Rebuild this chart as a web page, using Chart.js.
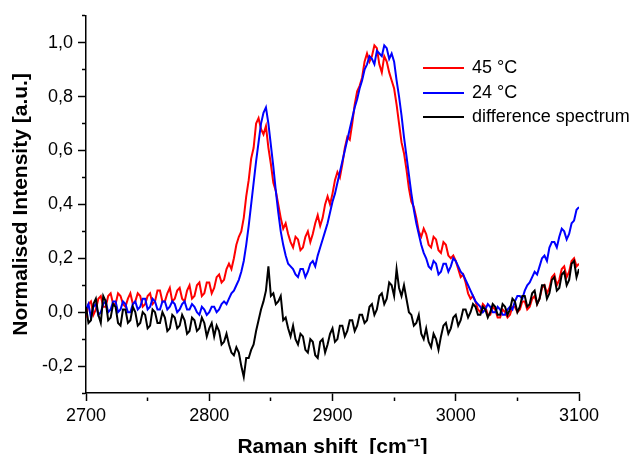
<!DOCTYPE html>
<html>
<head>
<meta charset="utf-8">
<script src="https://cdn.jsdelivr.net/npm/chart.js@4"></script>
<style>
  body { margin: 0; background: #fff; }
  #wrap { width: 638px; height: 454px; }
</style>
</head>
<body>
<div id="wrap"><canvas id="raman"></canvas></div>
<script>
// Raman shift grid (cm-1), one row = 20 cm-1
var shifts = [
  2700, 2702, 2704, 2706, 2708, 2710, 2712, 2714, 2716, 2718,
  2720, 2722, 2724, 2726, 2728, 2730, 2732, 2734, 2736, 2738,
  2740, 2742, 2744, 2746, 2748, 2750, 2752, 2754, 2756, 2758,
  2760, 2762, 2764, 2766, 2768, 2770, 2772, 2774, 2776, 2778,
  2780, 2782, 2784, 2786, 2788, 2790, 2792, 2794, 2796, 2798,
  2800, 2802, 2804, 2806, 2808, 2810, 2812, 2814, 2816, 2818,
  2820, 2822, 2824, 2826, 2828, 2830, 2832, 2834, 2836, 2838,
  2840, 2842, 2844, 2846, 2848, 2850, 2852, 2854, 2856, 2858,
  2860, 2862, 2864, 2866, 2868, 2870, 2872, 2874, 2876, 2878,
  2880, 2882, 2884, 2886, 2888, 2890, 2892, 2894, 2896, 2898,
  2900, 2902, 2904, 2906, 2908, 2910, 2912, 2914, 2916, 2918,
  2920, 2922, 2924, 2926, 2928, 2930, 2932, 2934, 2936, 2938,
  2940, 2942, 2944, 2946, 2948, 2950, 2952, 2954, 2956, 2958,
  2960, 2962, 2964, 2966, 2968, 2970, 2972, 2974, 2976, 2978,
  2980, 2982, 2984, 2986, 2988, 2990, 2992, 2994, 2996, 2998,
  3000, 3002, 3004, 3006, 3008, 3010, 3012, 3014, 3016, 3018,
  3020, 3022, 3024, 3026, 3028, 3030, 3032, 3034, 3036, 3038,
  3040, 3042, 3044, 3046, 3048, 3050, 3052, 3054, 3056, 3058,
  3060, 3062, 3064, 3066, 3068, 3070, 3072, 3074, 3076, 3078,
  3080, 3082, 3084, 3086, 3088, 3090, 3092, 3094, 3096, 3098,
  3100];

// 45 °C
var hot = [
  -0.02, 0.03, 0.04, -0.01, 0.01, 0.05, 0.06, 0.02, 0.02, 0.06,
  0.07, 0.03, 0.03, 0.07, 0.06, 0.03, 0.02, 0.05, 0.07, 0.03,
  0.04, 0.07, 0.06, 0.02, 0.03, 0.06, 0.07, 0.03, 0.04, 0.08,
  0.08, 0.04, 0.04, 0.07, 0.09, 0.04, 0.05, 0.08, 0.09, 0.05,
  0.04, 0.08, 0.10, 0.05, 0.06, 0.10, 0.11, 0.06, 0.07, 0.11,
  0.11, 0.07, 0.09, 0.13, 0.14, 0.11, 0.12, 0.16, 0.18, 0.16,
  0.20, 0.25, 0.28, 0.30, 0.35, 0.43, 0.49, 0.57, 0.61, 0.70,
  0.72, 0.68, 0.66, 0.69, 0.61, 0.55, 0.48, 0.45, 0.40, 0.35,
  0.31, 0.33, 0.29, 0.26, 0.24, 0.28, 0.27, 0.23, 0.24, 0.28,
  0.30, 0.26, 0.29, 0.33, 0.36, 0.32, 0.35, 0.40, 0.43, 0.40,
  0.44, 0.49, 0.52, 0.50, 0.55, 0.61, 0.65, 0.64, 0.70, 0.77,
  0.82, 0.84, 0.87, 0.93, 0.96, 0.93, 0.95, 0.99, 0.98, 0.92,
  0.89, 0.95, 0.93, 0.89, 0.86, 0.83, 0.77, 0.70, 0.63, 0.59,
  0.53, 0.46, 0.41, 0.39, 0.35, 0.30, 0.28, 0.31, 0.29, 0.25,
  0.24, 0.28, 0.27, 0.23, 0.22, 0.26, 0.25, 0.21, 0.20, 0.21,
  0.19, 0.16, 0.13, 0.14, 0.11, 0.07, 0.05, 0.06, 0.04, 0.01,
  0.00, 0.03, 0.02, -0.01, -0.01, 0.02, 0.01, -0.02, -0.02, 0.01,
  0.00, -0.02, -0.01, 0.02, 0.02, 0.00, 0.01, 0.04, 0.04, 0.01,
  0.02, 0.05, 0.06, 0.03, 0.05, 0.09, 0.10, 0.07, 0.09, 0.13,
  0.14, 0.10, 0.12, 0.16, 0.17, 0.13, 0.15, 0.19, 0.20, 0.17,
  0.18];

// 24 °C
var cold = [
  0.01, 0.03, -0.02, 0.02, 0.03, -0.01, 0.00, 0.03, 0.04, 0.00,
  0.01, 0.04, 0.04, 0.00, 0.01, 0.04, 0.03, 0.00, 0.00, 0.03,
  0.04, 0.01, 0.02, 0.05, 0.05, 0.01, 0.02, 0.05, 0.04, 0.01,
  0.01, 0.04, 0.04, 0.01, 0.02, 0.04, 0.03, 0.00, 0.01, 0.03,
  0.04, 0.01, 0.01, 0.03, 0.02, 0.00, -0.01, 0.02, 0.01, -0.01,
  0.00, 0.02, 0.02, 0.00, 0.01, 0.03, 0.04, 0.03, 0.05, 0.07,
  0.08, 0.10, 0.12, 0.15, 0.19, 0.25, 0.32, 0.40, 0.48, 0.56,
  0.63, 0.70, 0.74, 0.76, 0.70, 0.62, 0.54, 0.45, 0.37, 0.30,
  0.25, 0.21, 0.18, 0.17, 0.16, 0.14, 0.13, 0.16, 0.16, 0.13,
  0.15, 0.18, 0.19, 0.17, 0.21, 0.24, 0.27, 0.30, 0.33, 0.37,
  0.41, 0.44, 0.48, 0.52, 0.56, 0.60, 0.64, 0.68, 0.72, 0.76,
  0.79, 0.83, 0.86, 0.90, 0.92, 0.95, 0.94, 0.92, 0.97, 0.96,
  0.95, 0.99, 0.98, 0.94, 0.96, 0.93, 0.86, 0.80, 0.73, 0.65,
  0.58, 0.51, 0.44, 0.38, 0.33, 0.29, 0.25, 0.22, 0.20, 0.17,
  0.16, 0.19, 0.18, 0.14, 0.15, 0.18, 0.18, 0.15, 0.17, 0.20,
  0.19, 0.17, 0.15, 0.14, 0.12, 0.10, 0.08, 0.06, 0.04, 0.03,
  0.02, 0.00, 0.01, 0.03, 0.02, 0.00, 0.00, 0.02, 0.01, -0.01,
  -0.01, 0.01, 0.02, 0.01, 0.04, 0.06, 0.06, 0.05, 0.08, 0.10,
  0.11, 0.13, 0.15, 0.14, 0.17, 0.20, 0.21, 0.19, 0.24, 0.26,
  0.26, 0.24, 0.28, 0.31, 0.30, 0.27, 0.29, 0.33, 0.34, 0.38,
  0.39];

// difference spectrum
var diff = [
  0.02, -0.04, -0.03, 0.03, 0.05, -0.01, -0.04, 0.06, 0.04, -0.03,
  -0.02, 0.03, 0.02, -0.04, -0.05, 0.01, 0.01, -0.04, -0.03, 0.02,
  0.00, -0.05, -0.04, 0.00, -0.01, -0.06, -0.05, 0.01, 0.00, -0.04,
  -0.04, 0.00, -0.02, -0.07, -0.06, -0.01, -0.02, -0.06, -0.05, -0.01,
  -0.03, -0.08, -0.07, -0.02, -0.03, -0.07, -0.06, -0.02, -0.04, -0.09,
  -0.06, -0.04, -0.09, -0.05, -0.07, -0.12, -0.11, -0.08, -0.12, -0.15,
  -0.16, -0.13, -0.15, -0.20, -0.24, -0.17, -0.17, -0.14, -0.12, -0.07,
  -0.03, 0.01, 0.04, 0.08, 0.17, 0.06, 0.07, 0.03, 0.04, 0.06,
  -0.03, -0.02, -0.06, -0.09, -0.05, -0.10, -0.12, -0.08, -0.09, -0.14,
  -0.15, -0.10, -0.11, -0.16, -0.17, -0.11, -0.10, -0.15, -0.12, -0.08,
  -0.06, -0.11, -0.10, -0.05, -0.05, -0.09, -0.07, -0.03, -0.03, -0.07,
  -0.05, -0.01, -0.01, -0.04, -0.03, 0.02, 0.03, -0.01, 0.01, 0.06,
  0.07, 0.03, 0.05, 0.11, 0.10, 0.06, 0.16, 0.09, 0.06, 0.10,
  0.05, 0.00, -0.01, -0.05, -0.04, -0.01, -0.08, -0.10, -0.06, -0.11,
  -0.13, -0.08, -0.10, -0.14, -0.09, -0.05, -0.04, -0.08, -0.06, -0.02,
  -0.01, -0.05, -0.03, 0.01, 0.01, -0.02, 0.00, 0.03, 0.02, -0.01,
  -0.01, 0.02, 0.01, -0.02, 0.00, 0.03, 0.02, -0.01, -0.01, 0.03,
  0.02, -0.01, 0.01, 0.05, 0.04, 0.00, 0.02, 0.06, 0.06, 0.02,
  0.03, 0.07, 0.08, 0.03, 0.05, 0.10, 0.10, 0.05, 0.07, 0.12,
  0.13, 0.08, 0.09, 0.14, 0.15, 0.10, 0.12, 0.18, 0.19, 0.13,
  0.16];

var seriesNames = ["45 °C", "24 °C", "difference spectrum"];
var seriesColors = ["#ff0000", "#0000ff", "#000000"];

function pts(ys) {
  return shifts.map(function (x, i) { return { x: x, y: ys[i] }; });
}

var FONT = "'Liberation Sans', Arial, sans-serif";

// legend drawn inside the plot, top right
var insideLegend = {
  id: "insideLegend",
  afterDraw: function (chart) {
    var ctx = chart.ctx;
    ctx.save();
    ctx.font = "18px " + FONT;
    ctx.textBaseline = "middle";
    var rows = [68, 93, 117];
    chart.data.datasets.forEach(function (ds, i) {
      ctx.strokeStyle = ds.borderColor;
      ctx.lineWidth = 2;
      ctx.beginPath();
      ctx.moveTo(423, rows[i]);
      ctx.lineTo(464, rows[i]);
      ctx.stroke();
      ctx.fillStyle = "#000";
      ctx.fillText(ds.label, 472, rows[i]);
    });
    ctx.restore();
  }
};

var ctx = document.getElementById("raman").getContext("2d");
var chart = new Chart(ctx, {
  type: "line",
  data: {
    datasets: [
      { label: seriesNames[0], data: pts(hot), borderColor: seriesColors[0], order: 3 },
      { label: seriesNames[1], data: pts(cold), borderColor: seriesColors[1], order: 2 },
      { label: seriesNames[2], data: pts(diff), borderColor: seriesColors[2], order: 1 }
    ]
  },
  options: {
    responsive: true,
    maintainAspectRatio: false,
    animation: false,
    layout: { padding: { top: 14, right: 59, left: 0, bottom: 0 } },
    elements: {
      point: { radius: 0 },
      line: { borderWidth: 2, tension: 0 }
    },
    plugins: {
      legend: { display: false },
      tooltip: { enabled: false }
    },
    scales: {
      x: {
        type: "linear",
        min: 2700,
        max: 3100,
        border: { color: "#000", width: 1.5 },
        grid: {
          drawOnChartArea: false,
          tickLength: 8,
          tickColor: "#000",
          tickWidth: 1.5,
          tickBorderDash: function (c) { return c.tick && c.tick.value % 100 !== 0 ? [4, 4] : []; },
          tickBorderDashOffset: function (c) { return c.tick && c.tick.value % 100 !== 0 ? 4 : 0; }
        },
        ticks: {
          stepSize: 50,
          autoSkip: false,
          maxRotation: 0,
          padding: 4,
          color: "#000",
          font: { family: FONT, size: 18 },
          callback: function (v) { return v % 100 === 0 ? String(v) : ""; }
        },
        title: {
          display: true,
          text: "Raman shift  [cm⁻¹]",
          color: "#000",
          font: { family: FONT, size: 21, weight: "bold", lineHeight: 1 },
          padding: { top: 0, bottom: -4 }
        },
        afterFit: function (s) { s.height = 61; }
      },
      y: {
        min: -0.3,
        max: 1.1,
        border: { color: "#000", width: 1.5 },
        grid: {
          drawOnChartArea: false,
          tickLength: 8,
          tickColor: "#000",
          tickWidth: 1.5,
          tickBorderDash: function (c) { return c.tick && Math.round(c.tick.value * 10) % 2 !== 0 ? [4, 4] : []; },
          tickBorderDashOffset: function (c) { return c.tick && Math.round(c.tick.value * 10) % 2 !== 0 ? 4 : 0; }
        },
        ticks: {
          stepSize: 0.1,
          autoSkip: false,
          padding: 5,
          color: "#000",
          font: { family: FONT, size: 18 },
          callback: function (v) {
            var k = Math.round(v * 10);
            return k % 2 === 0 ? (k / 10).toFixed(1).replace(".", ",") : "";
          }
        },
        title: {
          display: true,
          text: "Normalised Intensity [a.u.]",
          color: "#000",
          font: { family: FONT, size: 21, weight: "bold", lineHeight: 1 },
          padding: { top: 11, bottom: 0 }
        },
        afterFit: function (s) { s.width = 86; }
      }
    }
  },
  plugins: [insideLegend]
});
</script>
</body>
</html>
